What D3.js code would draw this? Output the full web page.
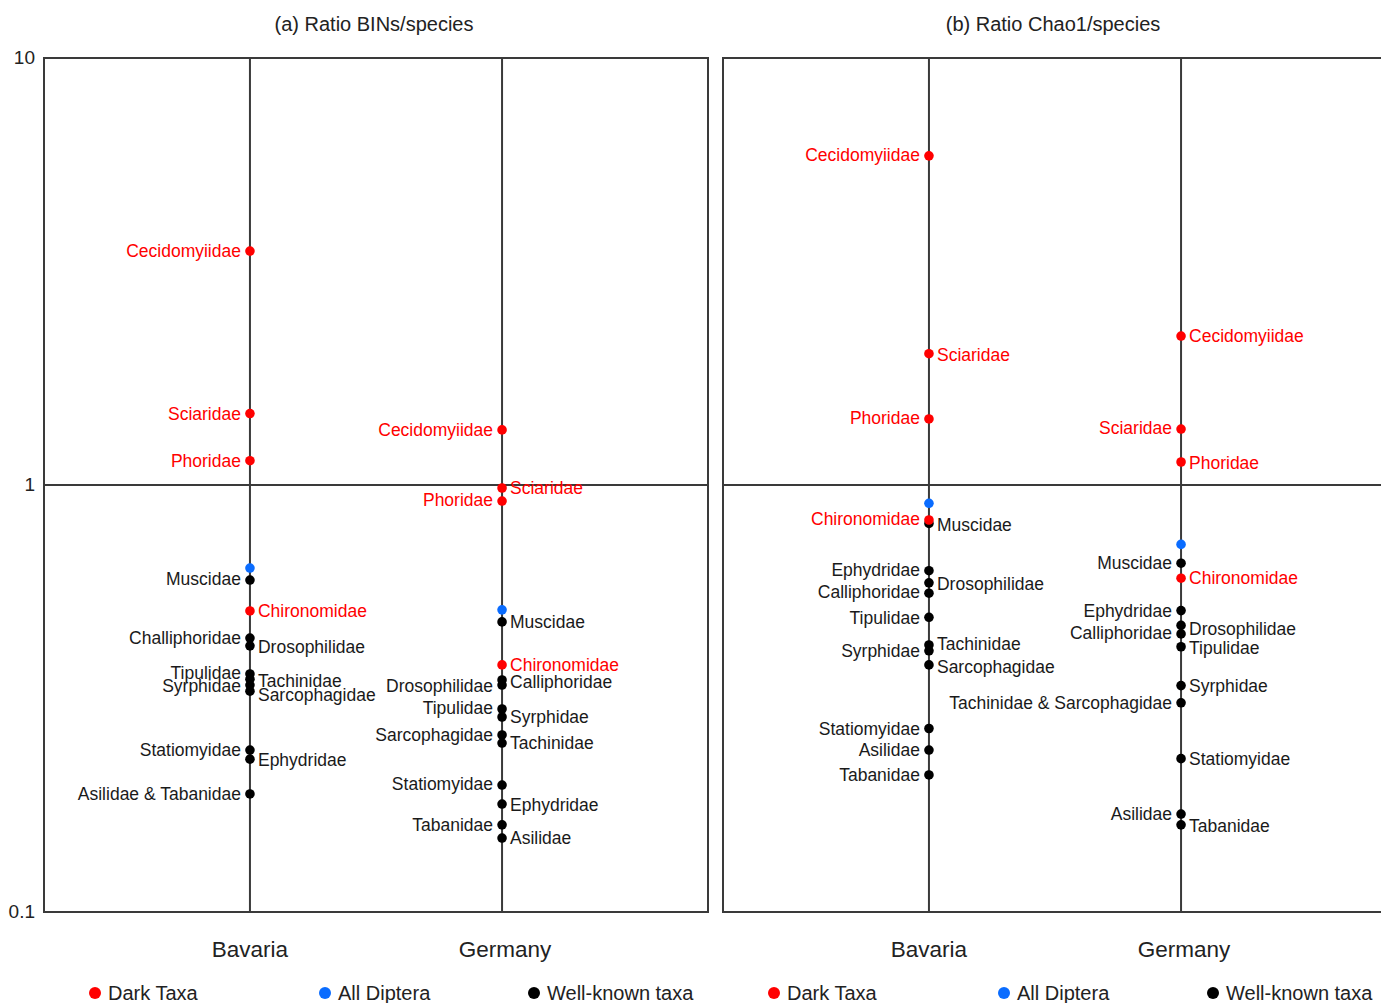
<!DOCTYPE html>
<html>
<head>
<meta charset="utf-8">
<script src="https://cdn.jsdelivr.net/npm/d3@7"></script>
<style>
    body { margin: 0; background: #fff; }
    svg { display: block; font-family: "Liberation Sans", Arial, sans-serif; }
    .frame { fill: none; stroke: #3a3a3a; stroke-width: 2; }
    .axis-line { stroke: #3a3a3a; stroke-width: 2; }
    .taxon-label { font-size: 17.5px; }
    .panel-title { font-size: 20px; fill: #222; }
    .region-label { font-size: 22.5px; fill: #222; }
    .tick-label { font-size: 19px; fill: #222; }
    .legend-label { font-size: 20px; fill: #222; }
</style>
</head>
<body>
<div id="chart"></div>
<script>
// Data

const regions = ["Bavaria", "Germany"];
const darkTaxa = ["Cecidomyiidae", "Sciaridae", "Phoridae", "Chironomidae"];
const yTicks = [0.1, 1, 10];
const yTickLabels = ["0.1", "1", "10"];
const legendItems = ["Dark Taxa", "All Diptera", "Well-known taxa"];
const panelTitles = ["(a) Ratio BINs/species", "(b) Ratio Chao1/species"];

// (a) BINs / species
const binsBavariaTaxa = ["All Diptera", "Cecidomyiidae", "Sciaridae", "Phoridae", "Muscidae", "Chironomidae",
    "Challiphoridae", "Drosophilidae", "Tipulidae", "Tachinidae", "Syrphidae", "Sarcophagidae",
    "Statiomyidae", "Ephydridae", "Asilidae & Tabanidae"];
const binsBavariaValues = [0.639, 3.53, 1.47, 1.14, 0.599, 0.507,
    0.438, 0.420, 0.361, 0.351, 0.340, 0.329,
    0.2395, 0.228, 0.189];

const binsGermanyTaxa = ["All Diptera", "Cecidomyiidae", "Sciaridae", "Phoridae", "Muscidae", "Chironomidae",
    "Calliphoridae", "Drosophilidae", "Tipulidae", "Syrphidae", "Sarcophagidae", "Tachinidae",
    "Statiomyidae", "Ephydridae", "Tabanidae", "Asilidae"];
const binsGermanyValues = [0.510, 1.346, 0.984, 0.917, 0.478, 0.379,
    0.3495, 0.340, 0.2988, 0.2862, 0.2598, 0.2487,
    0.1983, 0.179, 0.160, 0.149];

// (b) Chao1 / species
const chaoBavariaTaxa = ["All Diptera", "Cecidomyiidae", "Sciaridae", "Phoridae", "Muscidae", "Chironomidae",
    "Ephydridae", "Drosophilidae", "Calliphoridae", "Tipulidae", "Tachinidae", "Syrphidae",
    "Sarcophagidae", "Statiomyidae", "Asilidae", "Tabanidae"];
const chaoBavariaValues = [0.906, 5.90, 2.03, 1.428, 0.813, 0.828,
    0.630, 0.590, 0.558, 0.490, 0.422, 0.409,
    0.379, 0.269, 0.2395, 0.2094];

const chaoGermanyTaxa = ["All Diptera", "Cecidomyiidae", "Sciaridae", "Phoridae", "Muscidae", "Chironomidae",
    "Ephydridae", "Drosophilidae", "Calliphoridae", "Tipulidae", "Syrphidae", "Tachinidae & Sarcophagidae",
    "Statiomyidae", "Asilidae", "Tabanidae"];
const chaoGermanyValues = [0.726, 2.233, 1.352, 1.132, 0.656, 0.605,
    0.508, 0.469, 0.448, 0.418, 0.339, 0.309,
    0.2286, 0.1696, 0.160];

// label side (L/R) and small vertical nudge in px, per panel and region
const labelPlacement = {
    a: {
        Bavaria: {
            "Cecidomyiidae": ["L", 0], "Sciaridae": ["L", 0], "Phoridae": ["L", 0], "Muscidae": ["L", -1],
            "Chironomidae": ["R", 0], "Challiphoridae": ["L", 0], "Drosophilidae": ["R", 1],
            "Tipulidae": ["L", -1], "Tachinidae": ["R", 2], "Syrphidae": ["L", 1], "Sarcophagidae": ["R", 4],
            "Statiomyidae": ["L", 0], "Ephydridae": ["R", 1], "Asilidae & Tabanidae": ["L", 0]
        },
        Germany: {
            "Cecidomyiidae": ["L", 0], "Sciaridae": ["R", 0], "Phoridae": ["L", -1], "Muscidae": ["R", 0],
            "Chironomidae": ["R", 0], "Calliphoridae": ["R", 2], "Drosophilidae": ["L", 1],
            "Tipulidae": ["L", -1], "Syrphidae": ["R", 0], "Sarcophagidae": ["L", 0], "Tachinidae": ["R", 0],
            "Statiomyidae": ["L", -1], "Ephydridae": ["R", 1], "Tabanidae": ["L", 0], "Asilidae": ["R", 0]
        }
    },
    b: {
        Bavaria: {
            "Cecidomyiidae": ["L", -1], "Sciaridae": ["R", 1], "Phoridae": ["L", -1], "Chironomidae": ["L", -1],
            "Muscidae": ["R", 1], "Ephydridae": ["L", -1], "Drosophilidae": ["R", 1], "Calliphoridae": ["L", -1],
            "Tipulidae": ["L", 0], "Tachinidae": ["R", -1], "Syrphidae": ["L", 0], "Sarcophagidae": ["R", 2],
            "Statiomyidae": ["L", 0], "Asilidae": ["L", 0], "Tabanidae": ["L", 0]
        },
        Germany: {
            "Cecidomyiidae": ["R", 0], "Sciaridae": ["L", -1], "Phoridae": ["R", 1], "Muscidae": ["L", 0],
            "Chironomidae": ["R", 0], "Ephydridae": ["L", 0], "Drosophilidae": ["R", 3], "Calliphoridae": ["L", -1],
            "Tipulidae": ["R", 1], "Syrphidae": ["R", 0], "Tachinidae & Sarcophagidae": ["L", 0],
            "Statiomyidae": ["R", 0], "Asilidae": ["L", 0], "Tabanidae": ["R", 1]
        }
    }
};

const red = "#ff0000";
const blue = "#0a6cff";
const black = "#000000";

const groupOf = name => name === "All Diptera" ? "all" : (darkTaxa.includes(name) ? "dark" : "known");
const colorOf = { dark: red, all: blue, known: black };
const drawOrder = { known: 0, all: 1, dark: 2 };

const zip = (taxa, values) => taxa.map((t, i) => ({ taxon: t, value: values[i], group: groupOf(t) }));

const panels = [
    { key: "a", title: panelTitles[0], left: 44, showTicks: true,
      data: { Bavaria: zip(binsBavariaTaxa, binsBavariaValues), Germany: zip(binsGermanyTaxa, binsGermanyValues) } },
    { key: "b", title: panelTitles[1], left: 723, showTicks: false,
      data: { Bavaria: zip(chaoBavariaTaxa, chaoBavariaValues), Germany: zip(chaoGermanyTaxa, chaoGermanyValues) } }
];

const width = 1381;
const height = 1003;
const marginTop = 58;
const panelWidth = 664;
const innerHeight = 854;

const svg = d3.select("#chart")
    .append("svg")
    .attr("width", width)
    .attr("height", height)
    .attr("viewBox", `0 0 ${width} ${height}`);

const yScale = d3.scaleLog()
    .domain([0.1, 10])
    .range([innerHeight, 0]);

const xScale = d3.scalePoint()
    .domain(regions)
    .range([0, panelWidth])
    .padding(0.817);

panels.forEach(panel => {
    const g = svg.append("g")
        .attr("transform", `translate(${panel.left}, ${marginTop})`);

    svg.append("text")
        .attr("class", "panel-title")
        .attr("x", panel.left + panelWidth / 2 - 2)
        .attr("y", 31)
        .attr("text-anchor", "middle")
        .text(panel.title);

    // vertical region lines
    g.selectAll(".region-line")
        .data(regions)
        .join("line")
        .attr("class", "axis-line")
        .attr("x1", d => xScale(d))
        .attr("x2", d => xScale(d))
        .attr("y1", 0)
        .attr("y2", innerHeight);

    // ratio = 1 line
    g.append("line")
        .attr("class", "axis-line")
        .attr("x1", 0)
        .attr("x2", panelWidth)
        .attr("y1", yScale(1))
        .attr("y2", yScale(1));

    g.append("rect")
        .attr("class", "frame")
        .attr("width", panelWidth)
        .attr("height", innerHeight);

    if (panel.showTicks) {
        g.selectAll(".tick-label")
            .data(yTicks)
            .join("text")
            .attr("class", "tick-label")
            .attr("x", -9)
            .attr("y", d => yScale(d))
            .attr("dy", "0.3em")
            .attr("text-anchor", "end")
            .text((d, i) => yTickLabels[i]);
    }

    g.selectAll(".region-label")
        .data(regions)
        .join("text")
        .attr("class", "region-label")
        .attr("x", d => xScale(d) + (d === "Germany" ? 3 : 0))
        .attr("y", 957 - marginTop)
        .attr("text-anchor", "middle")
        .text(d => d);

    regions.forEach(region => {
        const rows = panel.data[region].slice().sort((a, b) => drawOrder[a.group] - drawOrder[b.group]);
        const cx = xScale(region);

        g.selectAll(null)
            .data(rows)
            .join("circle")
            .attr("cx", cx)
            .attr("cy", d => yScale(d.value))
            .attr("r", 4.8)
            .attr("fill", d => colorOf[d.group]);

        const placed = rows.filter(d => labelPlacement[panel.key][region][d.taxon]);
        g.selectAll(null)
            .data(placed)
            .join("text")
            .attr("class", "taxon-label")
            .attr("x", d => labelPlacement[panel.key][region][d.taxon][0] === "L" ? cx - 9 : cx + 8)
            .attr("y", d => yScale(d.value) + labelPlacement[panel.key][region][d.taxon][1])
            .attr("dy", "0.36em")
            .attr("text-anchor", d => labelPlacement[panel.key][region][d.taxon][0] === "L" ? "end" : "start")
            .attr("fill", d => d.group === "dark" ? red : "#1a1a1a")
            .text(d => d.taxon);
    });

    // legend
    const legendX = [51, 281, 490];
    const legendColors = [red, blue, black];
    const legend = g.selectAll(".legend-item")
        .data(legendItems)
        .join("g")
        .attr("class", "legend-item")
        .attr("transform", (d, i) => `translate(${legendX[i]}, ${993 - marginTop})`);

    legend.append("circle")
        .attr("r", 6)
        .attr("fill", (d, i) => legendColors[i]);

    legend.append("text")
        .attr("class", "legend-label")
        .attr("x", 13)
        .attr("dy", "0.36em")
        .text(d => d);
});
</script>
</body>
</html>
